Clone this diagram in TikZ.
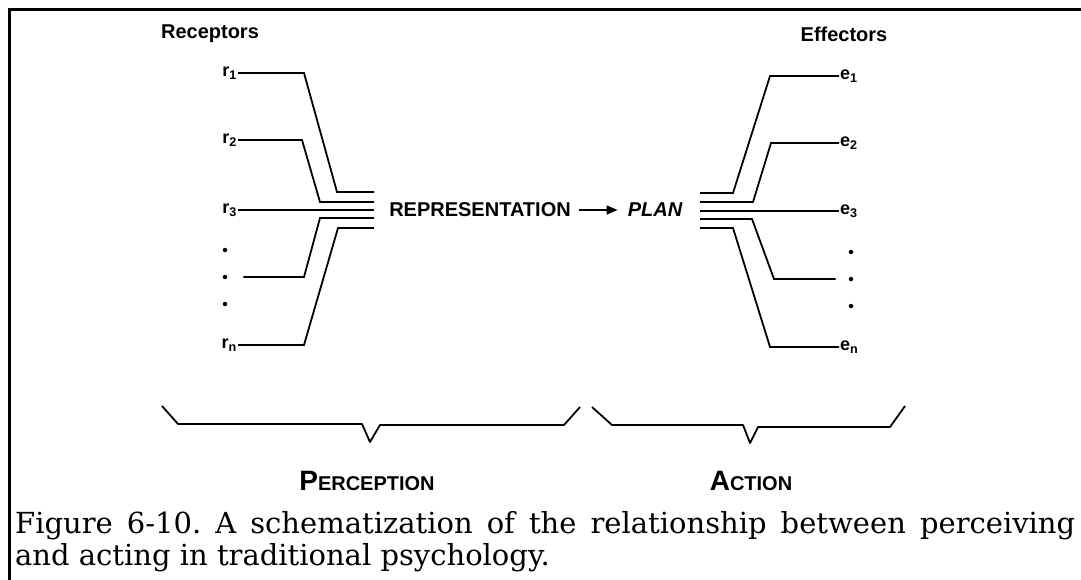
\documentclass[tikz,border=0pt]{standalone}
\usepackage{fontspec}
\setmainfont{DejaVu Serif}
\newfontfamily\helv{Liberation Sans}
\usetikzlibrary{arrows.meta}
\usetikzlibrary{positioning}

\tikzset{
  wire/.style={line width=1.8pt},
  lab/.style={font=\helv\bfseries\fontsize{18}{20}\selectfont, inner sep=1pt},
  dotlab/.style={circle, fill, inner sep=0pt, minimum size=4.5pt},
  head/.style={font=\helv\bfseries\fontsize{20}{22}\selectfont, inner sep=0pt},
  big/.style={font=\helv\bfseries\fontsize{20}{24}\selectfont, inner sep=0pt},
  brace/.style={line width=1.8pt, line join=round},
}
\newcommand{\bigsc}[2]{{\fontsize{28}{30}\selectfont #1}{\fontsize{20}{22}\selectfont #2}}

\begin{document}
\begin{tikzpicture}[x=1pt,y=-1pt]
    \useasboundingbox (0,0) rectangle (1081,580);
    % frame (cut at right and bottom)
    \draw[line width=3.5pt] (9.5,580) -- (9.5,9.5) -- (1081,9.5);

    \node[head] (rec) at (210,34) {Receptors};
    \node[head] (eff) at (844,34) {Effectors};

    % receptors
    \foreach \n/\y/\t in {r1/73/1, r2/140/2, r3/210/3, rn/345/n} {
        \node[lab, anchor=east] (\n) at (238,\y) {r\textsubscript{\t}};
    }
    \foreach \n/\y in {rd1/250, r4/277, rd2/304} {
        \node[dotlab] (\n) at (225,\y) {};
    }
    \foreach \i/\y in {1/192, 2/202, 3/210, 4/218, 5/228} {
        \coordinate (b\i) at (374,\y);
    }
    \draw[wire] (r1.east) -- (304,73) -- (337,192) -- (b1);
    \draw[wire] (r2.east) -- (302,140) -- (320,202) -- (b2);
    \draw[wire] (r3.east) -- (b3);
    \draw[wire, shorten <=16pt] (r4) -- (304,277) -- (320,218) -- (b4);
    \draw[wire] (rn.east) -- (304,345) -- (338,228) -- (b5);

    % effectors
    \foreach \n/\y/\t in {e1/76/1, e2/143/2, e3/211/3, en/347/n} {
        \node[lab, anchor=west] (\n) at (839,\y) {e\textsubscript{\t}};
    }
    \foreach \n/\y in {ed1/252, e4/279, ed2/306} {
        \node[dotlab] (\n) at (851,\y) {};
    }
    \foreach \i/\y in {1/193, 2/202, 3/211, 4/219, 5/228} {
        \coordinate (c\i) at (700,\y);
    }
    \draw[wire] (c1) -- (733,193) -- (770,76) -- (e1.west);
    \draw[wire] (c2) -- (753,202) -- (771,143) -- (e2.west);
    \draw[wire] (c3) -- (e3.west);
    \draw[wire, shorten >=13pt] (c4) -- (752,219) -- (774,279) -- (e4);
    \draw[wire] (c5) -- (733,228) -- (770,347) -- (en.west);

    % middle
    \node[big] (rep) at (480,210) {REPRESENTATION};
    \node[big, font=\helv\bfseries\itshape\fontsize{20}{24}\selectfont] (plan) at (655,210) {PLAN};
    \draw[line width=1.6pt, -{Triangle[length=11pt,width=9pt]}, shorten <=8pt, shorten >=10pt] (rep) -- (plan);

    % braces
    \draw[brace] (162,406) -- (178,424) -- (362,424) -- (370,442) -- (380,425) -- (564,425) -- (580,407);
    \draw[brace] (592,407) -- (612,425) -- (743,425) -- (750,443) -- (758,427) -- (890,427) -- (905,406);
    \node[font=\helv\bfseries, anchor=base, inner sep=0pt] (perc) at (367,490) {\bigsc{P}{ERCEPTION}};
    \node[font=\helv\bfseries, anchor=base, inner sep=0pt] (act) at (751,490) {\bigsc{A}{CTION}};

    % caption
    \node[anchor=base west, text width=1060pt, align=justify, inner sep=0pt, font=\fontsize{29}{32}\selectfont] (cap) at (15,533)
        {\frenchspacing\tolerance=10000\hyphenpenalty=10000 Figure 6-10. A schematization of the relationship between perceiving\linebreak and acting in traditional psychology.};
\end{tikzpicture}
\end{document}
